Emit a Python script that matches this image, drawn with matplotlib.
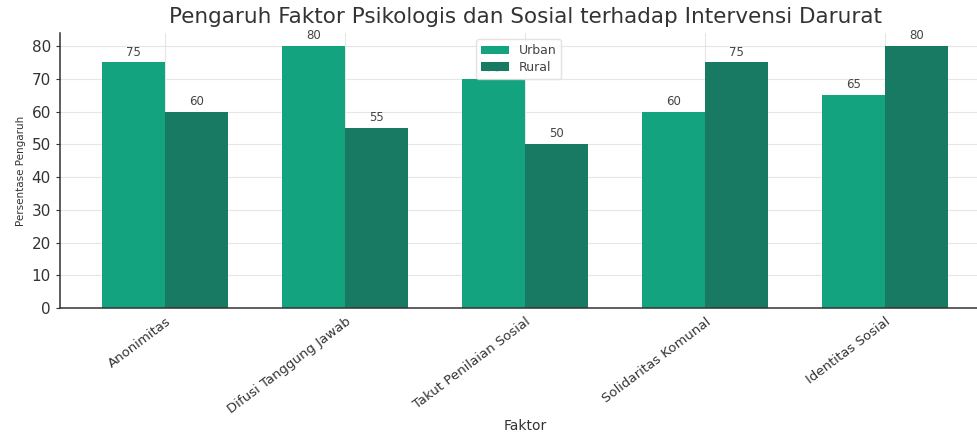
import matplotlib
matplotlib.use("Agg")
import matplotlib.pyplot as plt
import numpy as np

categories = ["Anonimitas", "Difusi Tanggung Jawab", "Takut Penilaian Sosial",
              "Solidaritas Komunal", "Identitas Sosial"]
urban = [75, 80, 70, 60, 65]
rural = [60, 55, 50, 75, 80]
series_names = ["Urban", "Rural"]
colors = ["#14a37f", "#187a62"]

fig = plt.figure(figsize=(9.78, 4.34), dpi=100)
ax = fig.add_axes([60/978, 126/434, 930.6/978, 275/434])

x = np.arange(len(categories))
w = 0.35
b1 = ax.bar(x - w/2, urban, w, color=colors[0], label=series_names[0], zorder=2)
b2 = ax.bar(x + w/2, rural, w, color=colors[1], label=series_names[1], zorder=2)

for bars in (b1, b2):
    for r in bars:
        ax.text(r.get_x() + r.get_width()/2, r.get_height() + 1.2, f"{int(r.get_height())}",
                ha="center", va="bottom", fontsize=8.5, color="#444444", zorder=1)

ax.set_xlim(-0.585, 4.585)
ax.set_ylim(0, 84)
ax.set_yticks(range(0, 81, 10))
ax.set_xticks(x)
ax.set_xticklabels(categories, rotation=37, ha="right", rotation_mode="anchor", fontsize=9.5, color="#333333")
ax.tick_params(axis="y", labelsize=11, colors="#333333", length=3)
ax.tick_params(axis="x", length=0, pad=5)
ax.grid(True, color="#e6e6e6", linewidth=0.8, zorder=0)
ax.set_axisbelow(True)
for s in ("top", "right"):
    ax.spines[s].set_visible(False)
for s in ("left", "bottom"):
    ax.spines[s].set_color("#333333")
    ax.spines[s].set_linewidth(1.1)

ax.set_title("Pengaruh Faktor Psikologis dan Sosial terhadap Intervensi Darurat",
             fontsize=15.5, color="#333333", pad=7)
ax.set_xlabel("Faktor", fontsize=10, color="#333333")
ax.xaxis.set_label_coords(0.5, -0.405)
ax.set_ylabel("Persentase Pengaruh", fontsize=7.5, color="#333333", labelpad=4)
leg = ax.legend(loc="upper center", fontsize=9, frameon=True, bbox_to_anchor=(0.493, 1.0),
                handlelength=2.2, borderpad=0.4, labelspacing=0.3)
leg.get_frame().set_edgecolor("#dddddd")
for t in leg.get_texts():
    t.set_color("#444444")

fig.savefig("out.png", dpi=100)
